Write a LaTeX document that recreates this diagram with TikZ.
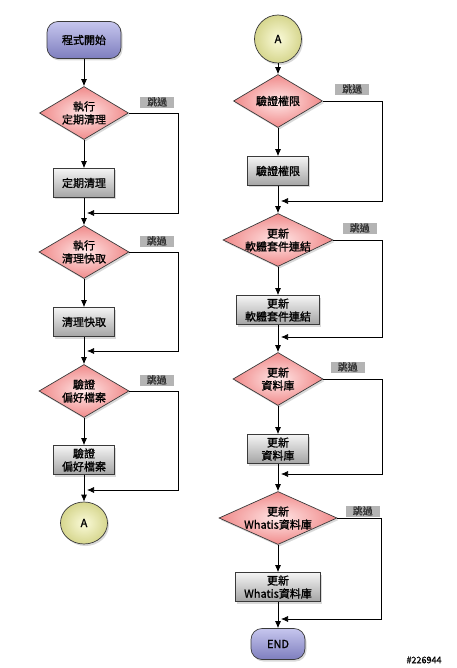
\documentclass[tikz,border=0pt]{standalone}
\usepackage{fontspec}
\setmainfont{Noto Sans CJK TC}[FakeBold=1.2]
\usetikzlibrary{shapes.geometric,shadows,positioning,arrows.meta}

\definecolor{termtop}{HTML}{C6C6EE}
\definecolor{termbot}{HTML}{7E7EBE}
\definecolor{decin}{HTML}{FFE8E8}
\definecolor{decout}{HTML}{F08A8A}
\definecolor{boxtop}{HTML}{F4F4F4}
\definecolor{boxbot}{HTML}{A4A4A4}
\definecolor{conin}{HTML}{FAFAD8}
\definecolor{conout}{HTML}{D6D68E}
\definecolor{skipgray}{HTML}{B4B4B4}
\definecolor{edge}{HTML}{3A3A3A}

\tikzset{
  shadowed/.style={drop shadow={shadow xshift=1.5pt,shadow yshift=-2pt,opacity=0.3}},
  term/.style={draw=edge,rounded corners=11pt,top color=termtop,bottom color=termbot,shadowed,inner sep=0pt},
  decision/.style={diamond,draw=edge,inner sep=0pt,inner color=decin,outer color=decout,shadowed,minimum height=53pt},
  proc/.style={rectangle,draw=edge,top color=boxtop,bottom color=boxbot,shadowed,inner xsep=8.5pt,inner ysep=2pt,minimum height=29pt,minimum width=61pt,align=center},
  conn/.style={ellipse,draw=edge,inner sep=0pt,inner color=conin,outer color=conout,shadowed},
  skiplbl/.style={fill=skipgray,inner xsep=7pt,inner ysep=0.5pt,text height=8.5pt,text depth=1.5pt,text=black!80,font=\fontsize{10}{12}\selectfont},
  dtext/.style={align=center},
}

\begin{document}
\begin{tikzpicture}[x=1pt,y=-1pt,font=\fontsize{11}{13}\selectfont,line width=0.7pt,>={Latex[length=7pt,width=6pt]}]
	\useasboundingbox (0,0) rectangle (456,668);
	% left column
	\node[term,minimum width=74pt,minimum height=37pt] (start) at (84,40) {程式開始};
	\node[decision,minimum width=89pt,label={[dtext]center:執行\\定期清理}] (d1) at (84,113) {};
	\node[proc] (p1) at (84,183) {定期清理};
	\node[decision,minimum width=90pt,label={[dtext]center:執行\\清理快取}] (d2) at (84,252) {};
	\node[proc] (p2) at (84,322) {清理快取};
	\node[decision,minimum width=90pt,label={[dtext]center:驗證\\偏好檔案}] (d3) at (84,391) {};
	\node[proc] (p3) at (84,460) {驗證\\偏好檔案};
	\node[conn,minimum width=47pt,minimum height=42pt] (a1) at (84,523) {A};
	% right column
	\node[conn,minimum width=47pt,minimum height=48pt] (a2) at (278,39) {A};
	\node[decision,minimum width=89pt,label={[dtext]center:驗證權限}] (d4) at (278,101) {};
	\node[proc] (p4) at (278,171) {驗證權限};
	\node[decision,minimum width=110pt,label={[dtext]center:更新\\軟體套件連結}] (d5) at (278,240) {};
	\node[proc] (p5) at (278,310) {更新\\軟體套件連結};
	\node[decision,minimum width=90pt,label={[dtext]center:更新\\資料庫}] (d6) at (278,379) {};
	\node[proc] (p6) at (278,449) {更新\\資料庫};
	\node[decision,minimum width=118pt,label={[dtext]center:更新\\Whatis資料庫}] (d7) at (278,518) {};
	\node[proc] (p7) at (278,587) {更新\\Whatis資料庫};
	\node[term,minimum width=54pt,minimum height=31pt] (end) at (278,644) {END};
	% skip labels
	\node[skiplbl,above right=5pt and 11pt of d1.east] (s1) {跳過};
	\node[skiplbl,above right=5pt and 10pt of d2.east] (s2) {跳過};
	\node[skiplbl,above right=5pt and 10pt of d3.east] (s3) {跳過};
	\node[skiplbl,above right=6pt and 12pt of d4.east] (s4) {跳過};
	\node[skiplbl,above right=6pt and 9pt of d5.east] (s5) {跳過};
	\node[skiplbl,above right=6pt and 7pt of d6.east] (s6) {跳過};
	\node[skiplbl,above right=1pt and 8pt of d7.east] (s7) {跳過};
	% corners and joins
	\coordinate (r1) at (178,213); \coordinate (j1) at (87,213);
	\coordinate (r2) at (178,351); \coordinate (j2) at (87,351);
	\coordinate (r3) at (178,490); \coordinate (j3) at (87,490);
	\coordinate (r4) at (382,201); \coordinate (j4) at (281,201);
	\coordinate (r5) at (382,337); \coordinate (j5) at (281,337);
	\coordinate (r6) at (382,474); \coordinate (j6) at (281,474);
	\coordinate (r7) at (381,619); \coordinate (j7) at (281,619);
	% main flow
	\draw[->] (start) -- (d1);
	\draw[->] (d1) -- (p1);
	\draw[->] (p1) -- (d2);
	\draw[->] (d2) -- (p2);
	\draw[->] (p2) -- (d3);
	\draw[->] (d3) -- (p3);
	\draw[->] (p3) -- (a1);
	\draw[->] (a2) -- (d4);
	\draw[->] (d4) -- (p4);
	\draw[->] (p4) -- (d5);
	\draw[->] (d5) -- (p5);
	\draw[->] (p5) -- (d6);
	\draw[->] (d6) -- (p6);
	\draw[->] (p6) -- (d7);
	\draw[->] (d7) -- (p7);
	\draw[->] (p7) -- (end);
	% skip branches
	\draw[->] (d1.east) -| (r1) -- (j1);
	\draw[->] (d2.east) -| (r2) -- (j2);
	\draw[->] (d3.east) -| (r3) -- (j3);
	\draw[->] (d4.east) -| (r4) -- (j4);
	\draw[->] (d5.east) -| (r5) -- (j5);
	\draw[->] (d6.east) -| (r6) -- (j6);
	\draw[->] (d7.east) -| (r7) -- (j7);
	\node[font=\fontsize{9}{10}\selectfont] (mark) at (424,660) {\#226944};
\end{tikzpicture}
\end{document}
